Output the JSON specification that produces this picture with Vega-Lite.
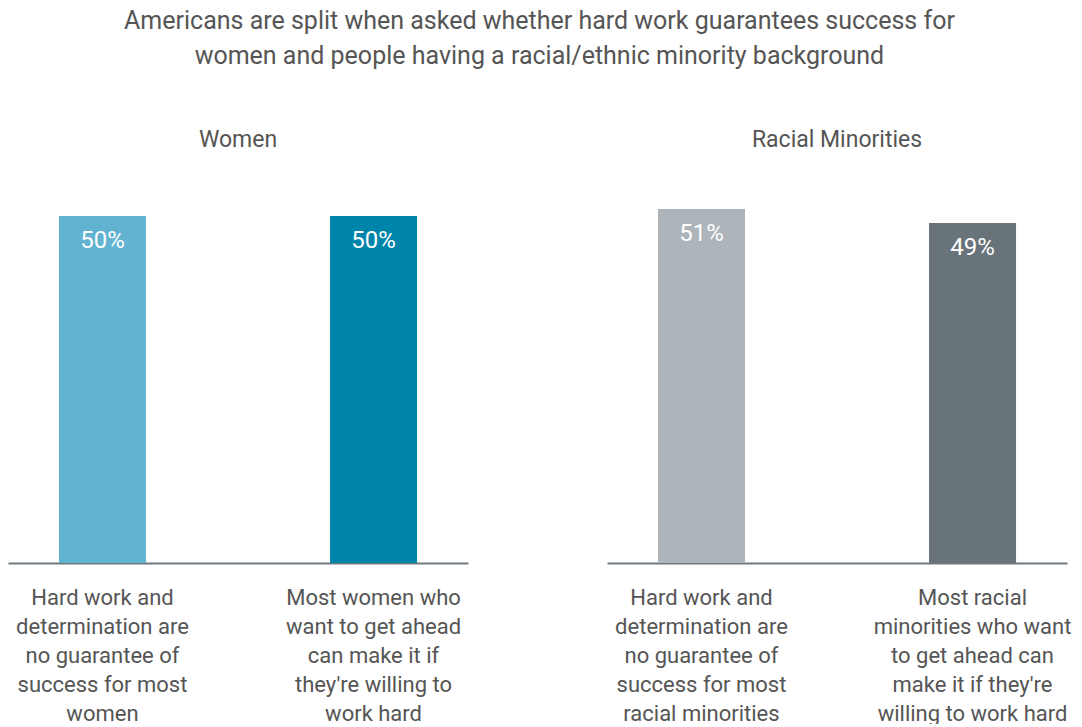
{
  "$schema": "https://vega.github.io/schema/vega-lite/v6.json",
  "padding": {"left": 8, "right": 14, "top": 9, "bottom": 0},
  "background": "white",
  "title": {
    "text": ["Americans are split when asked whether hard work guarantees success for", "women and people having a racial/ethnic minority background"],
    "fontSize": 25, "font": "Roboto", "fontWeight": "normal", "color": "#555555",
    "lineHeight": 35, "anchor": "middle", "offset": 60
  },
  "data": {"values": [
    {"panel": "Women", "order": 1, "label": "Hard work and|determination are|no guarantee of|success for most|women", "value": 0.50},
    {"panel": "Women", "order": 2, "label": "Most women who|want to get ahead|can make it if|they're willing to|work hard", "value": 0.50},
    {"panel": "Racial Minorities", "order": 1, "label": "Hard work and|determination are|no guarantee of|success for most|racial minorities", "value": 0.51},
    {"panel": "Racial Minorities", "order": 2, "label": "Most racial|minorities who want|to get ahead can|make it if they're|willing to work hard", "value": 0.49}
  ]},
  "facet": {
    "column": {
      "field": "panel", "type": "nominal", "sort": ["Women", "Racial Minorities"],
      "header": {"title": null, "labelFontSize": 23, "labelFont": "Roboto", "labelColor": "#555555", "labelPadding": 20}
    }
  },
  "spacing": 139,
  "resolve": {"scale": {"x": "independent"}},
  "spec": {
    "width": 460,
    "height": 391,
    "encoding": {
      "x": {
        "field": "label", "type": "nominal", "sort": {"field": "order"},
        "scale": {"paddingInner": 0.679, "paddingOuter": 0.188},
        "axis": {
          "title": null, "labelExpr": "split(datum.value, '|')", "labelAngle": 0, "ticks": false,
          "domainColor": "#6f787e", "domainWidth": 2, "labelFontSize": 22, "labelLineHeight": 29,
          "labelPadding": 24, "labelColor": "#555555", "labelFont": "Roboto", "labelLimit": 0
        }
      },
      "y": {"field": "value", "type": "quantitative", "scale": {"domain": [0, 0.5634], "nice": false}, "axis": null}
    },
    "layer": [
      {
        "mark": {"type": "bar"},
        "encoding": {
          "color": {
            "field": "label", "type": "nominal", "legend": null,
            "scale": {
              "domain": [
                "Hard work and|determination are|no guarantee of|success for most|women",
                "Most women who|want to get ahead|can make it if|they're willing to|work hard",
                "Hard work and|determination are|no guarantee of|success for most|racial minorities",
                "Most racial|minorities who want|to get ahead can|make it if they're|willing to work hard"
              ],
              "range": ["#62b3d1", "#0085aa", "#adb4ba", "#69747a"]
            }
          }
        }
      },
      {
        "mark": {"type": "text", "baseline": "middle", "dy": 25, "color": "white", "fontSize": 24, "font": "Roboto"},
        "encoding": {"text": {"field": "value", "type": "quantitative", "format": ".0%"}}
      }
    ]
  },
  "config": {"view": {"stroke": null}}
}
